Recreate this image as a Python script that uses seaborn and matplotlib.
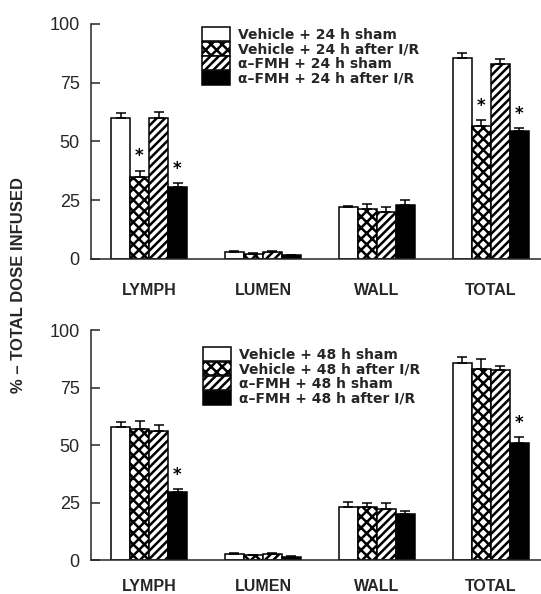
import matplotlib
matplotlib.use("Agg")
import matplotlib.pyplot as plt
from matplotlib.patches import Patch
import numpy as np
import pandas as pd
import seaborn as sns

sns.set_style("ticks")
plt.rcParams["font.family"] = ["Liberation Sans", "DejaVu Sans"]
plt.rcParams["hatch.linewidth"] = 1.8
plt.rcParams["hatch.color"] = "black"

sites = ["LYMPH", "LUMEN", "WALL", "TOTAL"]
groups_24 = ["Vehicle + 24 h sham", "Vehicle + 24 h after I/R",
             "\u03b1\u2013FMH + 24 h sham", "\u03b1\u2013FMH + 24 h after I/R"]
groups_48 = ["Vehicle + 48 h sham", "Vehicle + 48 h after I/R",
             "\u03b1\u2013FMH + 48 h sham", "\u03b1\u2013FMH + 48 h after I/R"]

# mean % of total dose, per group, in site order (LYMPH, LUMEN, WALL, TOTAL)
mean_24 = [
    [60.0, 2.8, 22.0, 85.4],
    [35.0, 2.2, 21.3, 56.6],
    [60.0, 2.8, 20.0, 82.8],
    [30.5, 1.5, 22.8, 54.2],
]
sem_24 = [
    [2.0, 0.4, 0.7, 2.3],
    [2.6, 0.4, 2.2, 2.3],
    [2.5, 0.5, 2.0, 2.2],
    [1.7, 0.2, 2.3, 1.4],
]
sig_24 = [
    [False, False, False, False],
    [True, False, False, True],
    [False, False, False, False],
    [True, False, False, True],
]

mean_48 = [
    [57.7, 2.6, 23.2, 85.5],
    [57.2, 2.0, 23.2, 83.3],
    [56.2, 2.6, 22.0, 82.6],
    [29.4, 1.5, 20.0, 51.0],
]
sem_48 = [
    [2.2, 0.4, 1.9, 2.9],
    [3.4, 0.4, 1.8, 4.1],
    [2.5, 0.6, 2.8, 1.9],
    [1.6, 0.2, 1.3, 2.6],
]
sig_48 = [
    [False, False, False, False],
    [False, False, False, False],
    [False, False, False, False],
    [True, False, False, True],
]

styles = [
    dict(facecolor="white", hatch=""),
    dict(facecolor="white", hatch="xxx"),
    dict(facecolor="white", hatch="////"),
    dict(facecolor="black", hatch=""),
]


def draw_panel(ax, groups, means, sems, sig, legend_anchor, label_pad):
    rows = []
    for g, m in zip(groups, means):
        for s, v in zip(sites, m):
            rows.append(dict(site=s, group=g, value=v))
    df = pd.DataFrame(rows)
    sns.barplot(data=df, x="site", y="value", hue="group", order=sites,
                hue_order=groups, errorbar=None, width=0.667, ax=ax,
                edgecolor="black", linewidth=1.1, legend=False)
    bar_sets = list(ax.containers)
    handles = []
    for gi, cont in enumerate(bar_sets):
        st = styles[gi]
        for bi, bar in enumerate(cont):
            bar.set_facecolor(st["facecolor"])
            bar.set_hatch(st["hatch"])
            bar.set_edgecolor("black")
            xc = bar.get_x() + bar.get_width() / 2
            top = means[gi][bi]
            err = sems[gi][bi]
            ax.errorbar([xc], [top], yerr=[[0], [err]], fmt="none",
                        ecolor="black", elinewidth=1.1, capsize=3.6,
                        capthick=1.1, zorder=1)
            if sig[gi][bi]:
                ax.text(xc, top + err + 2.2, "*", ha="center", va="bottom",
                        fontsize=12, fontweight="bold", color="black",
                        family="DejaVu Sans")
        handles.append(Patch(facecolor=st["facecolor"], hatch=st["hatch"],
                             edgecolor="black", linewidth=1.1))
    ax.legend(handles, groups, loc="upper left",
              bbox_to_anchor=legend_anchor, frameon=False,
              borderpad=0, borderaxespad=0, labelspacing=0,
              handlelength=2.0, handleheight=1.15, handletextpad=0.6,
              prop=dict(family="DejaVu Sans", weight="bold", size=10))
    ax.set_ylim(0, 100)
    ax.set_xlim(-0.51, 3.44)
    ax.set_yticks([0, 25, 50, 75, 100])
    ax.set_xlabel("")
    ax.set_ylabel("")
    sns.despine(ax=ax)
    for sp in ("left", "bottom"):
        ax.spines[sp].set_linewidth(1.1)
    ax.tick_params(axis="y", direction="in", length=6.5, width=1.1,
                   labelsize=13, pad=8)
    ax.tick_params(axis="x", length=0, pad=label_pad)
    for lab in ax.get_xticklabels():
        lab.set_fontweight("bold")
        lab.set_fontsize(11.5)


fig = plt.figure(figsize=(5.41, 5.94), dpi=100)
ax_top = fig.add_axes([0.168, 0.564, 0.832, 0.396])
ax_bot = fig.add_axes([0.168, 0.0572, 0.832, 0.387])

draw_panel(ax_top, groups_24, mean_24, sem_24, sig_24, (0.247, 0.985), 17)
draw_panel(ax_bot, groups_48, mean_48, sem_48, sig_48, (0.249, 0.927), 14)

fig.text(0.034, 0.52, "% \u2013 TOTAL DOSE INFUSED", rotation=90,
         ha="center", va="center", fontsize=12, fontweight="bold")

fig.savefig("out.png", dpi=100)
